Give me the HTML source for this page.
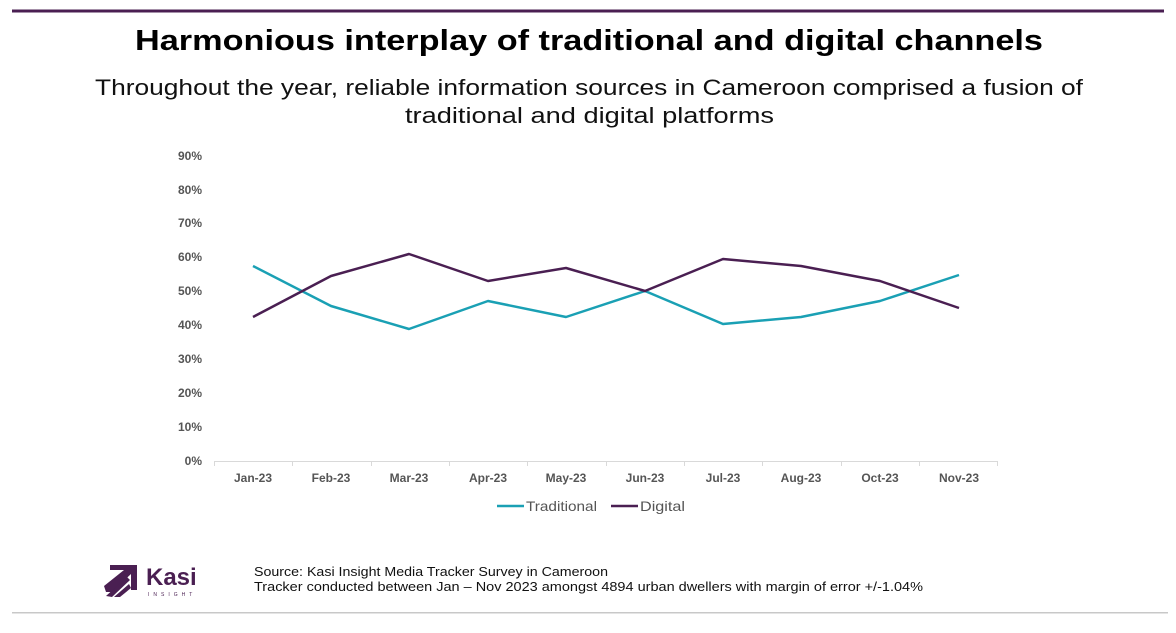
<!DOCTYPE html>
<html><head><meta charset="utf-8"><style>
body{margin:0;width:1176px;height:628px;background:#fff;overflow:hidden;font-family:"Liberation Sans",sans-serif;}
</style></head><body>
<svg width="1176" height="628" xmlns="http://www.w3.org/2000/svg" font-family="Liberation Sans, sans-serif">
<rect x="12" y="9.5" width="1152" height="3" fill="#4a1f52"/>
<text x="135" y="50" textLength="908" lengthAdjust="spacingAndGlyphs" font-size="29" font-weight="bold" fill="#000">Harmonious interplay of traditional and digital channels</text>
<text x="95" y="95" textLength="988" lengthAdjust="spacingAndGlyphs" font-size="22" fill="#111">Throughout the year, reliable information sources in Cameroon comprised a fusion of</text>
<text x="405" y="123" textLength="369" lengthAdjust="spacingAndGlyphs" font-size="22" fill="#111">traditional and digital platforms</text>
<g font-size="12" font-weight="bold" fill="#555" text-anchor="end">
<text x="202" y="465">0%</text><text x="202" y="431">10%</text><text x="202" y="397">20%</text><text x="202" y="363">30%</text><text x="202" y="329">40%</text><text x="202" y="295">50%</text><text x="202" y="261">60%</text><text x="202" y="227">70%</text><text x="202" y="194">80%</text><text x="202" y="160">90%</text>
</g>
<line x1="214" y1="461.5" x2="998" y2="461.5" stroke="#d9d9d9"/>
<g stroke="#d9d9d9"><line x1="214.5" y1="461" x2="214.5" y2="466"/><line x1="292.5" y1="461" x2="292.5" y2="466"/><line x1="371.5" y1="461" x2="371.5" y2="466"/><line x1="449.5" y1="461" x2="449.5" y2="466"/><line x1="527.5" y1="461" x2="527.5" y2="466"/><line x1="606.5" y1="461" x2="606.5" y2="466"/><line x1="684.5" y1="461" x2="684.5" y2="466"/><line x1="762.5" y1="461" x2="762.5" y2="466"/><line x1="841.5" y1="461" x2="841.5" y2="466"/><line x1="919.5" y1="461" x2="919.5" y2="466"/><line x1="997.5" y1="461" x2="997.5" y2="466"/></g>
<g font-size="12" font-weight="bold" fill="#555" text-anchor="middle">
<text x="253" y="482">Jan-23</text><text x="331" y="482">Feb-23</text><text x="409" y="482">Mar-23</text><text x="488" y="482">Apr-23</text><text x="566" y="482">May-23</text><text x="645" y="482">Jun-23</text><text x="723" y="482">Jul-23</text><text x="801" y="482">Aug-23</text><text x="880" y="482">Oct-23</text><text x="959" y="482">Nov-23</text>
</g>
<polyline fill="none" stroke="#1aa0b4" stroke-width="2.5" stroke-linejoin="round" points="253,266 331,306 409,329 488,301 566,317 645,291 723,324 801,317 880,301 959,275"/>
<polyline fill="none" stroke="#4a1f52" stroke-width="2.5" stroke-linejoin="round" points="253,317 331,276 409,254 488,281 566,268 645,291 723,259 801,266 880,281 959,308"/>
<line x1="497" y1="506" x2="524" y2="506" stroke="#1aa0b4" stroke-width="2.5"/>
<text x="526" y="511" textLength="71" lengthAdjust="spacingAndGlyphs" font-size="14" fill="#555">Traditional</text>
<line x1="611" y1="506" x2="638" y2="506" stroke="#4a1f52" stroke-width="2.5"/>
<text x="640" y="511" textLength="45" lengthAdjust="spacingAndGlyphs" font-size="14" fill="#555">Digital</text>
<g fill="#4a1f52">
<polygon points="110,565 137,565 137,590 131,590 131,574 112,592 106,592 104,586 124,570 110,570"/>
<polygon points="106,596 127,577 130,580 112,597"/>
<polygon points="114,597 129,584 131,588 120,597"/>
</g>
<text x="146" y="585" font-size="24" font-weight="bold" fill="#4a1f52">Kasi</text>
<text x="148" y="596" font-size="5" fill="#4a1f52" letter-spacing="4">INSIGHT</text>
<text x="254" y="576" textLength="354" lengthAdjust="spacingAndGlyphs" font-size="12.5" fill="#111">Source: Kasi Insight Media Tracker Survey in Cameroon</text>
<text x="254" y="591" textLength="669" lengthAdjust="spacingAndGlyphs" font-size="12.5" fill="#111">Tracker conducted  between Jan – Nov 2023 amongst 4894 urban dwellers with margin of error +/-1.04%</text>
<rect x="12" y="612" width="1156" height="1.5" fill="#c8c8c8"/>
</svg>
</body></html>
